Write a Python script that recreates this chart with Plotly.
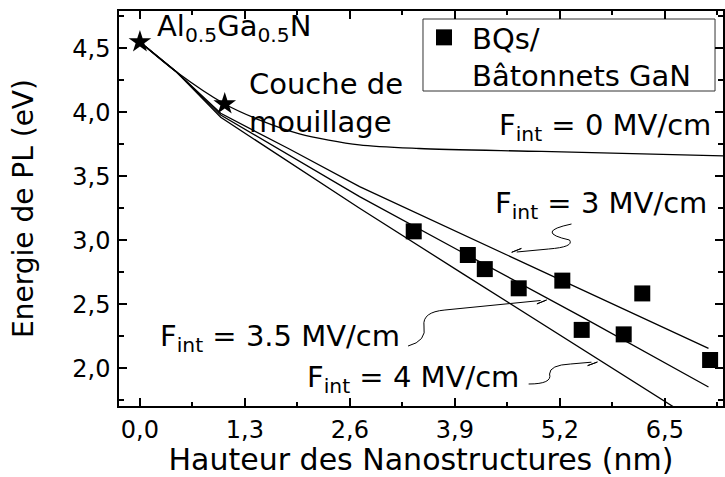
import math
import plotly.graph_objects as go

# ---------------- data ----------------
bq_x = [3.39, 4.06, 4.27, 4.69, 5.23, 5.47, 5.99, 6.22, 7.06]
bq_y = [3.07, 2.885, 2.775, 2.625, 2.685, 2.30, 2.265, 2.585, 2.065]

star_x = [0.0, 1.05]
star_y = [4.55, 4.065]

f0_x = [0.0, 0.45, 1.05, 1.5, 1.975, 2.716, 3.456, 4.973, 7.22]
f0_y = [4.55, 4.317, 4.065, 3.935, 3.832, 3.745, 3.717, 3.694, 3.659]

fx = [0.0, 0.45, 1.0, 1.85, 2.72, 4.0, 5.5, 7.04]
f3_y = [4.55, 4.317, 3.992, 3.713, 3.419, 3.046, 2.609, 2.156]
f35_y = [4.55, 4.317, 3.979, 3.666, 3.341, 2.903, 2.392, 1.854]
f4_y = [4.55, 4.317, 3.961, 3.612, 3.25, 2.738, 2.139, 1.526]

x_ticks = [0.0, 1.3, 2.6, 3.9, 5.2, 6.5]
x_ticktext = ["0,0", "1,3", "2,6", "3,9", "5,2", "6,5"]
y_ticks = [2.0, 2.5, 3.0, 3.5, 4.0, 4.5]
y_ticktext = ["2,0", "2,5", "3,0", "3,5", "4,0", "4,5"]

FONT = "DejaVu Sans"

# helper mapping reference-pixel positions of decorations to data units
def ref(px, py):
    return ((px - 140) / 81.03, 4.5 - (py - 48.3) / 128.0)

fig = go.Figure()

line_style = dict(color="black", width=1.3)
fig.add_trace(go.Scatter(x=f0_x, y=f0_y, mode="lines",
                         line=dict(shape="spline", smoothing=0.8, **line_style), showlegend=False))
for ys in (f3_y, f35_y, f4_y):
    fig.add_trace(go.Scatter(x=fx, y=ys, mode="lines", line=line_style, showlegend=False))

fig.add_trace(go.Scatter(x=star_x, y=star_y, mode="markers",
                         marker=dict(symbol="star", size=17, color="black"),
                         showlegend=False, cliponaxis=False))
fig.add_trace(go.Scatter(x=bq_x, y=bq_y, mode="markers",
                         marker=dict(symbol="square", size=16, color="black"),
                         name="BQs/<br>Bâtonnets GaN", showlegend=True, cliponaxis=False))

# ---------------- annotations ----------------
def ann(px, py, text, xanchor="center", size=29):
    x, y = ref(px, py)
    fig.add_annotation(x=x, y=y, xref="x", yref="y", text=text, showarrow=False,
                       xanchor=xanchor, yanchor="middle", align="left",
                       font=dict(family=FONT, size=size, color="black"))

ann(155, 28, "Al<sub>0.5</sub>Ga<sub>0.5</sub>N", xanchor="left")
ann(247, 103, "Couche de<br>mouillage", xanchor="left")
ann(607, 127, "F<sub>int</sub> = 0 MV/cm")
ann(603, 205, "F<sub>int</sub> = 3 MV/cm")
ann(281, 338, "F<sub>int</sub> = 3.5 MV/cm")
ann(414, 379, "F<sub>int</sub> = 4 MV/cm")

# curly connectors with arrow heads
def path(cmds):
    out = []
    for c, pts in cmds:
        coords = " ".join("%.4f,%.4f" % ref(*p) for p in pts)
        out.append(c + " " + coords)
    return " ".join(out)

connectors = [
    ([("M", [(573, 224)]), ("Q", [(535, 232), (571, 240)]), ("Q", [(576, 247), (550, 249)]), ("L", [(518, 252)])], (513, 252.3), (545, 249.5)),
    ([("M", [(409, 346)]), ("Q", [(428, 341), (425, 326)]), ("Q", [(423, 312), (446, 310)]), ("L", [(542, 300.5)])], (548, 300), (515, 303)),
    ([("M", [(530, 384)]), ("Q", [(554, 384), (551, 374)]), ("Q", [(551, 365), (572, 364)]), ("L", [(593, 362.2)])], (599, 362), (575, 363.5)),
]
for cmds, tip, tail in connectors:
    fig.add_shape(type="path", path=path(cmds), xref="x", yref="y",
                  line=dict(color="black", width=1))
    dx, dy = tip[0] - tail[0], tip[1] - tail[1]
    n = math.hypot(dx, dy)
    ux, uy = dx / n, dy / n
    L, W = 10, 3
    b1 = (tip[0] - L * ux - W * uy, tip[1] - L * uy + W * ux)
    b2 = (tip[0] - L * ux + W * uy, tip[1] - L * uy - W * ux)
    fig.add_shape(type="path", path=path([("M", [tip]), ("L", [b1, b2])]) + " Z",
                  xref="x", yref="y", line=dict(color="black", width=1), fillcolor="black")

# legend frame (reference size)
fig.add_shape(type="rect", xref="paper", yref="paper",
              x0=(424 - 119) / 606, x1=(717 - 119) / 606,
              y0=(406 - 91) / 395, y1=(406 - 19) / 395,
              line=dict(color="#333333", width=1), fillcolor="white", layer="below")

# ---------------- axes ----------------
x0, _ = ref(119, 0)
x1, _ = ref(725, 0)
_, y1 = ref(0, 11)
_, y0 = ref(0, 406)

axis_common = dict(showgrid=False, zeroline=False, showline=True, linecolor="black", linewidth=1.5,
                   mirror="allticks", ticks="inside", ticklen=8, tickwidth=1.5, tickcolor="black",
                   tickfont=dict(family=FONT, size=24, color="black"))

fig.update_xaxes(range=[x0, x1], tickvals=x_ticks, ticktext=x_ticktext,
                 minor=dict(tickvals=[0.65, 1.95, 3.25, 4.55, 5.85, 7.15], ticks="inside",
                            ticklen=4, tickwidth=1.5, tickcolor="black"),
                 title=dict(text="Hauteur des Nanostructures (nm)",
                            font=dict(family=FONT, size=30, color="black"), standoff=3),
                 ticklabelstandoff=1, **axis_common)
fig.update_yaxes(range=[y0, y1], tickvals=y_ticks, ticktext=y_ticktext,
                 minor=dict(tickvals=[1.75, 2.25, 2.75, 3.25, 3.75, 4.25, 4.75], ticks="inside",
                            ticklen=5, tickwidth=1.5, tickcolor="black"),
                 title=dict(text="Energie de PL (eV)",
                            font=dict(family=FONT, size=28, color="black"), standoff=30),
                 ticklabelstandoff=2, **axis_common)

fig.update_layout(
    width=725, height=477,
    margin=dict(l=119, r=0, t=11, b=71),
    plot_bgcolor="white", paper_bgcolor="white",
    font=dict(family=FONT, color="black"),
    legend=dict(x=(417 - 119) / 606, y=(406 - 12) / 395, xanchor="left", yanchor="top",
                borderwidth=0, bgcolor="rgba(0,0,0,0)", valign="top", itemwidth=46,
                font=dict(family=FONT, size=29, color="black")),
)

fig.write_html("out.html", config={"displayModeBar": False},
               post_script="document.body.style.margin='0';document.body.style.overflow='hidden';")
